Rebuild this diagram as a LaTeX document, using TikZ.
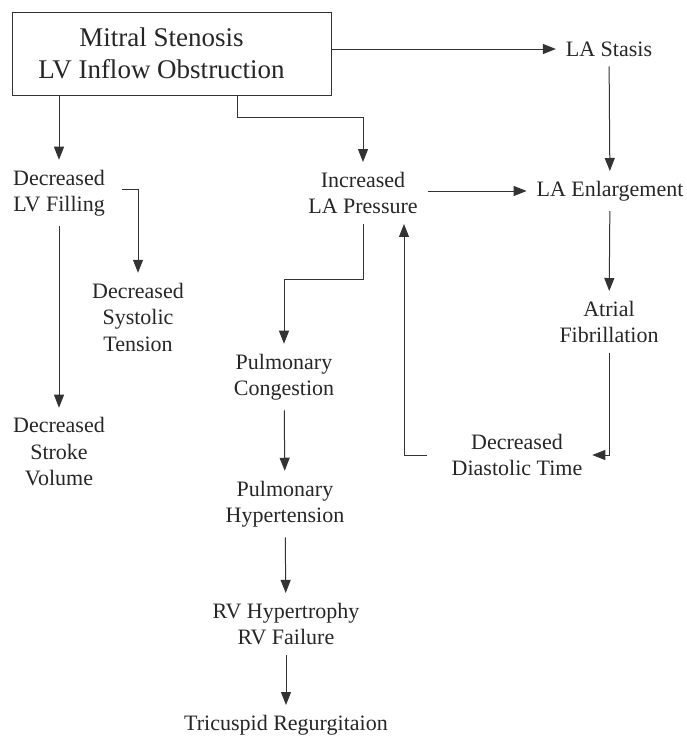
\documentclass[tikz,border=0pt]{standalone}
\usepackage{fontspec}
\setmainfont{Liberation Serif}
\usetikzlibrary{arrows.meta,calc}

\begin{document}
\begin{tikzpicture}[x=1pt, y=-1pt,
  every node/.style={font=\rmfamily\fontsize{22}{26.5}\selectfont, align=center, text=black!85, inner sep=4pt, outer sep=6pt},
  arr/.style={-{Triangle[length=13pt,width=10pt]}, line width=1pt, draw=black!80},
  mainbox/.style={rectangle, draw=black!80, line width=1pt, minimum width=319pt, minimum height=83pt, outer sep=0pt, font=\rmfamily\fontsize{27}{32}\selectfont}]

\useasboundingbox (0,0) rectangle (687,737);

\node[mainbox] (ms) at (171.5,53.5) {Mitral Stenosis\hspace*{20pt}\\LV Inflow Obstruction\hspace*{20pt}};

\node (stasis) at (609,49) {LA Stasis};
\node (enlarge) at (610,191) {LA Enlargement};
\node (lvfill) at (59,193) {Decreased\\LV Filling};
\node (incr) at (363,193) {Increased\\LA Pressure};
\node (systolic) at (138,317) {Decreased\\Systolic\\Tension};
\node (stroke) at (59,452) {Decreased\\Stroke\\Volume};
\node (pcong) at (284,377) {Pulmonary\\Congestion};
\node (phyp) at (285,504) {Pulmonary\\Hypertension};
\node (rv) at (286,624) {RV Hypertrophy\\RV Failure};
\node (tric) at (286,725) {Tricuspid Regurgitaion};
\node (afib) at (609,322) {Atrial\\Fibrillation};
\node (diast) at (517,455) {Decreased\\Diastolic Time};

% top box
\draw[arr] (stasis.west -| ms.east) -- (stasis.west);
\draw[arr] (ms.south -| lvfill) -- (lvfill);
\draw[arr] ([xshift=65.5pt]ms.south) -- ++(0,22) -| (incr.north);

% right column
\draw[arr] (stasis) -- (enlarge);
\draw[arr] (incr.east |- enlarge) -- (enlarge.west);
\draw[arr] (enlarge) -- (afib);
\draw[arr] (afib.south) |- (diast.east);
\draw[arr] ([xshift=-15pt]diast.west) -| ([xshift=41pt]incr.south);

% left column
\draw[arr] (lvfill) -- (stroke);
\draw[arr] ([xshift=7pt,yshift=4pt]lvfill.east) -| (systolic.north);

% middle column
\draw[arr] (incr.south) -- ++(0,56) -| (pcong.north);
\draw[arr] (pcong) -- (phyp);
\draw[arr] (phyp) -- (rv);
\draw[arr] (rv) -- (tric);

\end{tikzpicture}
\end{document}
